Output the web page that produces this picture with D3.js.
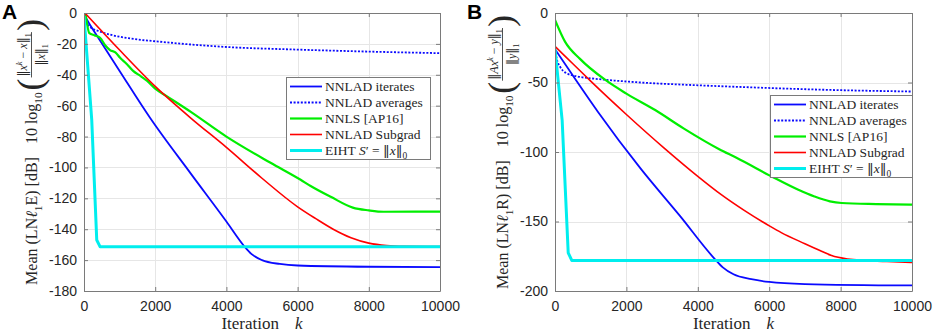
<!DOCTYPE html>
<html>
<head>
<meta charset="utf-8">
<script src="https://cdn.jsdelivr.net/npm/d3@7/dist/d3.min.js"></script>
<style>
    body { margin: 0; background: #fff; }
    svg { display: block; }
    .axis text { font-family: "Liberation Sans", Arial, sans-serif; font-size: 14px; fill: #262626; }
    .serif { font-family: "Liberation Serif", "DejaVu Serif", serif; fill: #262626; }
    .norm { font-family: "DejaVu Serif", serif; }
</style>
</head>
<body>
<svg id="chart" width="934" height="335"></svg>
<script>
// values: [iteration k, dB]
const xTicks = [0, 2000, 4000, 6000, 8000, 10000];
const yTicksA = [0, -20, -40, -60, -80, -100, -120, -140, -160, -180];
const yTicksB = [0, -50, -100, -150, -200];

const legendLabels = ["NNLAD iterates", "NNLAD averages", "NNLS [AP16]", "NNLAD Subgrad", "EIHT"];

// panel A (LNl1E)
const aIterates = [[0, -1], [150, -7], [400, -16], [1000, -37.5], [1859, -68], [3000, -104], [4000, -135],
    [4500, -151], [4700, -156], [5000, -160], [5500, -162.5], [6000, -163.5], [8000, -164.3], [10000, -164.5]];
const aAverages = [[0, -1], [50, -5], [169, -9], [450, -12], [730, -14], [1300, -16.5], [2140, -18.6],
    [4000, -22], [6000, -23.7], [8000, -25], [10000, -26]];
const aNnls = [[40, 0], [150, -13], [300, -14.5], [450, -16], [600, -21], [730, -24], [880, -25.5], [1014, -29],
    [1200, -33], [1380, -37.5], [1600, -41], [1775, -44], [2000, -49], [2300, -53.5], [3000, -64], [4000, -80],
    [5240, -97], [6085, -108], [6366, -112], [6930, -119], [7550, -126], [8000, -127.8], [8420, -128.7], [10000, -128.6]];
const aSubgrad = [[25, 0], [1000, -24], [2000, -47.5], [3000, -68], [4000, -87], [5000, -107], [6000, -125.5],
    [6500, -133], [7000, -140], [7500, -145.5], [8000, -149], [8500, -150.6], [9000, -151.1], [10000, -151.3]];
const aEiht = [[0, -2], [217, -69], [358, -147], [450, -151.3], [10000, -151.3]];

// panel B (LNl1R)
const bIterates = [[0, -26], [500, -45], [1200, -71], [2400, -112], [3500, -146], [4459, -176.5], [4700, -183],
    [5000, -188], [5500, -191.5], [6000, -193.5], [7000, -195], [10000, -196]];
const bAverages = [[0, -26], [50, -33], [150, -39], [300, -43], [600, -45.5], [1000, -47], [1400, -48],
    [2400, -50], [4000, -52], [5500, -53.5], [7500, -55.2], [10000, -56.5]];
const bNnls = [[0, -5], [280, -20.6], [700, -33], [1400, -48], [2000, -58], [2817, -70], [3600, -83], [4600, -98],
    [5070, -104], [6150, -118.7], [6800, -127], [7268, -132], [7700, -135.5], [8028, -136.7], [9000, -137.5], [10000, -137.9]];
const bSubgrad = [[0, -24], [500, -36.5], [1000, -49], [2000, -73], [3050, -97], [4000, -117.5], [4648, -130.5],
    [5300, -142], [6028, -153.5], [6338, -158], [7000, -166], [7465, -171.4], [7746, -174.5], [8200, -177],
    [8676, -178], [9300, -178.8], [10000, -179.5]];
const bEiht = [[0, -26], [200, -77], [370, -172.5], [470, -178], [10000, -178]];

const lineStyles = [
    { color: "#0a0aff", width: 1.8, dash: null, curve: d3.curveMonotoneX },
    { color: "#0a0aff", width: 1.8, dash: "2,1.6", curve: d3.curveMonotoneX },
    { color: "#00ee00", width: 2.2, dash: null, curve: d3.curveMonotoneX },
    { color: "#ff0000", width: 1.6, dash: null, curve: d3.curveMonotoneX },
    { color: "#00eeee", width: 3, dash: null, curve: d3.curveLinear }
];

const svg = d3.select("#chart");

/**
 * Appends a text made of segments, with italic / sub / sup / norm-bar handling.
 */
function mathText(parent, x, y, segs, size) {
    const text = parent.append("text")
        .attr("class", "serif")
        .attr("x", x)
        .attr("y", y)
        .attr("font-size", size);
    let cur = 0;
    segs.forEach(s => {
        const off = s.sub ? 0.3 * size : s.sup ? -0.4 * size : 0;
        text.append("tspan")
            .attr("dy", off - cur)
            .attr("class", s.t === "‖" ? "norm" : null)
            .attr("font-size", (s.sub || s.sup) ? size * 0.7 : size)
            .attr("font-style", s.it ? "italic" : null)
            .text(s.t);
        cur = off;
    });
    return text;
}

function drawYLabel(cx, cy, tag, numSegs, denSegs) {
    const g = svg.append("g");
    let x = 0;

    const t1 = mathText(g, x, 0, [{ t: "Mean (LN" }, { t: "ℓ", it: true }, { t: "1", sub: true }, { t: tag + ") [dB]" }], 16);
    x += t1.node().getComputedTextLength() + 13;

    const t2 = mathText(g, x, 0, [{ t: "10 log" }, { t: "10", sub: true }], 16);
    x += t2.node().getComputedTextLength() + 2;

    const p1 = g.append("text").attr("class", "serif").attr("x", x).attr("y", 4.5)
        .attr("font-size", 36).attr("font-weight", 300).text("(");
    x += p1.node().getComputedTextLength() + 1;

    const num = mathText(g, 0, -10, numSegs, 12),
        den = mathText(g, 0, 7.5, denSegs, 12),
        nw = num.node().getComputedTextLength(),
        dw = den.node().getComputedTextLength(),
        fw = Math.max(nw, dw) + 2;
    num.attr("x", x + (fw - nw) / 2);
    den.attr("x", x + (fw - dw) / 2);
    g.append("line")
        .attr("x1", x).attr("x2", x + fw)
        .attr("y1", -5.5).attr("y2", -5.5)
        .attr("stroke", "#262626").attr("stroke-width", 0.8);
    x += fw + 1;

    const p2 = g.append("text").attr("class", "serif").attr("x", x).attr("y", 4.5)
        .attr("font-size", 36).attr("font-weight", 300).text(")");
    x += p2.node().getComputedTextLength();

    g.attr("transform", `translate(${cx},${cy}) rotate(-90) translate(${-x / 2},0)`);
}

function drawPanel(p) {
    const top = 13, bottom = 291;

    const xScale = d3.scaleLinear().domain([0, 10000]).range([p.left, p.right]);
    const yScale = d3.scaleLinear().domain([p.yMin, 0]).range([bottom, top]);

    const clipId = "clip" + p.letter;
    svg.append("clipPath")
        .attr("id", clipId)
        .append("rect")
        .attr("x", p.left).attr("y", top)
        .attr("width", p.right - p.left).attr("height", bottom - top);

    // grid
    const grid = svg.append("g").attr("stroke", "#e6e6e6").attr("stroke-width", 1);
    grid.selectAll(".gx").data(xTicks).enter().append("line")
        .attr("x1", d => Math.round(xScale(d)) + 0.5).attr("x2", d => Math.round(xScale(d)) + 0.5)
        .attr("y1", top).attr("y2", bottom);
    grid.selectAll(".gy").data(p.yTicks).enter().append("line")
        .attr("y1", d => Math.round(yScale(d)) + 0.5).attr("y2", d => Math.round(yScale(d)) + 0.5)
        .attr("x1", p.left).attr("x2", p.right);

    // curves
    const plot = svg.append("g").attr("clip-path", `url(#${clipId})`);
    p.series.forEach((data, i) => {
        const st = lineStyles[i];
        const line = d3.line()
            .x(d => xScale(d[0]))
            .y(d => yScale(d[1]))
            .curve(st.curve);
        plot.append("path")
            .datum(data)
            .attr("fill", "none")
            .attr("stroke", st.color)
            .attr("stroke-width", st.width)
            .attr("stroke-dasharray", st.dash)
            .attr("stroke-linejoin", "round")
            .attr("d", line);
    });

    // axes, ticks pointing inward, box on
    const styleAxis = g => {
        g.attr("class", "axis");
        g.selectAll(".domain").attr("stroke", "#7a7a7a");
        g.selectAll(".tick line").attr("stroke", "#7a7a7a");
    };
    svg.append("g")
        .attr("transform", `translate(0,${bottom})`)
        .call(d3.axisBottom(xScale).tickValues(xTicks).tickSize(-4).tickSizeOuter(0).tickPadding(10).tickFormat(d3.format("d")))
        .call(styleAxis);
    svg.append("g")
        .attr("transform", `translate(0,${top})`)
        .call(d3.axisTop(xScale).tickValues(xTicks).tickSize(-4).tickSizeOuter(0).tickFormat(""))
        .call(styleAxis);
    svg.append("g")
        .attr("transform", `translate(${p.left},0)`)
        .call(d3.axisLeft(yScale).tickValues(p.yTicks).tickSize(-4).tickSizeOuter(0).tickPadding(7)
            .tickFormat(d => String(d)))
        .call(styleAxis);
    svg.append("g")
        .attr("transform", `translate(${p.right},0)`)
        .call(d3.axisRight(yScale).tickValues(p.yTicks).tickSize(-4).tickSizeOuter(0).tickFormat(""))
        .call(styleAxis);

    // legend
    const lx = p.legendX, ly = p.legendY;
    const legend = svg.append("g");
    legend.append("rect")
        .attr("x", lx + 0.5).attr("y", ly + 0.5)
        .attr("width", p.legendW).attr("height", 82)
        .attr("fill", "#fff").attr("stroke", "#7a7a7a");
    legendLabels.forEach((name, i) => {
        const st = lineStyles[i],
            yy = ly + 9.5 + i * 16;
        legend.append("line")
            .attr("x1", lx + 4).attr("x2", lx + 36)
            .attr("y1", yy).attr("y2", yy)
            .attr("stroke", st.color)
            .attr("stroke-width", st.width)
            .attr("stroke-dasharray", st.dash);
        const segs = i === 4
            ? [{ t: "EIHT " }, { t: "S", it: true }, { t: "′ = " }, { t: "‖" }, { t: "x", it: true }, { t: "‖" }, { t: "0", sub: true }]
            : [{ t: name }];
        mathText(legend, lx + 39, yy + 4.5, segs, 13.5);
    });

    // x label
    const xl = svg.append("text")
        .attr("class", "serif")
        .attr("x", (p.left + p.right) / 2)
        .attr("y", 329)
        .attr("font-size", 17)
        .attr("text-anchor", "middle");
    xl.append("tspan").text("Iteration");
    xl.append("tspan").attr("dx", 16).attr("font-style", "italic").text("k");

    // y label
    drawYLabel(p.labelX, (top + bottom) / 2, p.tag, p.num, p.den);

    // panel letter
    svg.append("text")
        .attr("x", p.letterX)
        .attr("y", 19)
        .attr("font-family", "Liberation Sans, Arial, sans-serif")
        .attr("font-weight", "bold")
        .attr("font-size", 21)
        .attr("fill", "#000")
        .text(p.letter);
}

drawPanel({
    letter: "A", left: 84, right: 440, yMin: -180, yTicks: yTicksA,
    series: [aIterates, aAverages, aNnls, aSubgrad, aEiht],
    legendX: 286, legendY: 77, legendW: 144, labelX: 37, letterX: 2, tag: "E",
    num: [{ t: "‖" }, { t: "x", it: true }, { t: "k", it: true, sup: true }, { t: " − " }, { t: "x", it: true }, { t: "‖" }, { t: "1", sub: true }],
    den: [{ t: "‖" }, { t: "x", it: true }, { t: "‖" }, { t: "1", sub: true }]
});

drawPanel({
    letter: "B", left: 555, right: 912, yMin: -200, yTicks: yTicksB,
    series: [bIterates, bAverages, bNnls, bSubgrad, bEiht],
    legendX: 770, legendY: 95, legendW: 142, labelX: 508, letterX: 467, tag: "R",
    num: [{ t: "‖" }, { t: "Ax", it: true }, { t: "k", it: true, sup: true }, { t: " − " }, { t: "y", it: true }, { t: "‖" }, { t: "1", sub: true }],
    den: [{ t: "‖" }, { t: "y", it: true }, { t: "‖" }, { t: "1", sub: true }]
});
</script>
</body>
</html>
